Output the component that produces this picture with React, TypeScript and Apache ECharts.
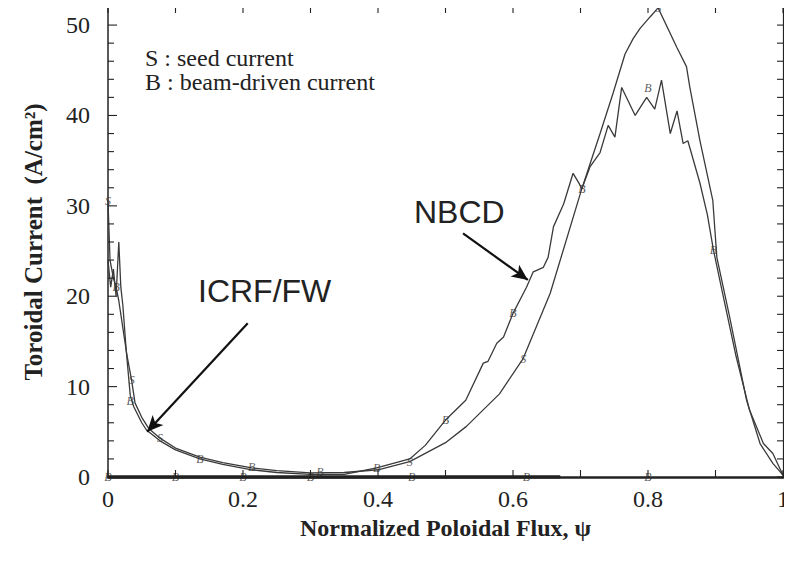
import React, { useEffect, useRef } from "react";
import * as echarts from "echarts";

// Seed current (S) curve
const seedX = [0, 0.003, 0.008, 0.012, 0.016, 0.022, 0.028, 0.035, 0.04, 0.05, 0.06, 0.077, 0.1, 0.136, 0.17, 0.213, 0.25, 0.3, 0.35, 0.4, 0.447, 0.5, 0.531, 0.58, 0.615, 0.655, 0.702, 0.729, 0.748, 0.766, 0.778, 0.788, 0.803, 0.815, 0.843, 0.857, 0.862, 0.877, 0.896, 0.902, 0.921, 0.946, 0.966, 0.985, 1.0];
const seedY = [30.5, 24, 22, 21, 19.5, 16.5, 13.5, 10.7, 8.2, 6.6, 5.4, 4.3, 3.2, 2.2, 1.6, 1.0, 0.7, 0.45, 0.5, 0.8, 1.7, 3.8, 5.6, 9.2, 13.1, 20.3, 31.9, 38.0, 42.4, 46.8, 48.5, 49.6, 50.9, 51.9, 47.5, 45.4, 43.1, 37.2, 30.6, 24.3, 17.7, 8.5, 3.7, 1.5, 0.2];

// Beam-driven current (B) curve
const beamX = [0, 0.004, 0.008, 0.012, 0.016, 0.019, 0.022, 0.027, 0.033, 0.038, 0.05, 0.057, 0.077, 0.1, 0.136, 0.17, 0.213, 0.25, 0.3, 0.35, 0.398, 0.447, 0.47, 0.5, 0.53, 0.556, 0.563, 0.576, 0.586, 0.6, 0.62, 0.63, 0.645, 0.652, 0.66, 0.675, 0.689, 0.697, 0.702, 0.714, 0.729, 0.741, 0.751, 0.761, 0.781, 0.798, 0.81, 0.82, 0.833, 0.843, 0.852, 0.859, 0.877, 0.888, 0.897, 0.91, 0.93, 0.95, 0.971, 0.985, 1.0];
const beamY = [24, 21, 23, 20, 26, 21, 19, 14, 9, 7.8, 6.0, 5.2, 4.0, 3.0, 2.0, 1.4, 0.8, 0.5, 0.3, 0.3, 1.0, 2.0, 3.5, 6.3, 8.5, 12.6, 12.8, 14.8, 15.5, 18.1, 21.0, 22.7, 23.2, 24.3, 27.7, 30.2, 33.6, 32.6, 31.9, 34.3, 35.9, 38.9, 37.6, 43.1, 40.0, 42.0, 40.7, 43.9, 38.0, 40.5, 36.9, 37.2, 32.5, 29.0, 25.1, 20.5, 13.5, 7.5, 3.7, 2.6, 0.2];

// near-zero (ICRF/FW region) baseline curve
const baseX = [0, 0.1, 0.2, 0.3, 0.45, 0.62, 0.67];
const baseY = [0, 0, 0, 0, 0, 0, 0];

// letter markers
const sMarkX = [0, 0.035, 0.077, 0.447, 0.615, 0.815, 1.0];
const sMarkY = [30.5, 10.7, 4.3, 1.7, 13.1, 51.9, 0.2];
const bMarkX = [0.012, 0.033, 0.136, 0.213, 0.314, 0.398, 0.5, 0.6, 0.702, 0.8, 0.897];
const bMarkY = [21, 8.4, 2.0, 1.1, 0.5, 1.0, 6.3, 18.1, 31.9, 43.0, 25.1];
const zMarkX = [0, 0.1, 0.2, 0.3, 0.45, 0.62, 0.8];
const zMarkY = [0, 0, 0, 0, 0, 0, 0];

// axis scale and tick positions
const xTicks = { min: 0, max: 1, interval: 0.2 };
const yTicks = { min: 0, max: 52, interval: 10 };
const xTickVals = [0, 0.1, 0.2, 0.3, 0.4, 0.5, 0.6, 0.7, 0.8, 0.9, 1.0];
const yTickVals = [0, 2, 4, 6, 8, 10, 12, 14, 16, 18, 20, 22, 24, 26, 28, 30, 32, 34, 36, 38, 40, 42, 44, 46, 48, 50, 52];

const zip = (xs: number[], ys: number[]) => xs.map((x, i) => [x, ys[i]]);

export default function App() {
  const ref = useRef<HTMLDivElement>(null);
  useEffect(() => {
    if (!ref.current) return;
    const chart = echarts.init(ref.current, undefined, { renderer: "svg" });
    const serif = "'Liberation Serif', 'DejaVu Serif', serif";
    const sans = "'Liberation Sans', Arial, sans-serif";
    const lineCol = "#3a3a3a";
    const ink = "#222";
    const markerLabel = (txt: string) => ({
      show: true,
      position: "inside" as const,
      formatter: txt,
      fontFamily: serif,
      fontStyle: "italic" as const,
      fontSize: 12,
      color: "#333",
      textBorderWidth: 0,
      textBorderColor: "transparent",
    });
    const tickStyle = { stroke: ink, lineWidth: 1.1 };
    chart.setOption({
      animation: false,
      backgroundColor: "#ffffff",
      grid: { left: 108, right: 9, top: 7, bottom: 87, show: false },
      xAxis: [
        {
          type: "value",
          min: xTicks.min,
          max: xTicks.max,
          interval: xTicks.interval,
          name: "Normalized Poloidal Flux, ψ",
          nameLocation: "middle",
          nameGap: 33,
          nameTextStyle: { fontFamily: serif, fontWeight: "bold", fontSize: 24, color: ink },
          axisLine: { show: true, onZero: false, lineStyle: { color: ink, width: 2.5 } },
          axisTick: { show: false },
          minorTick: { show: false },
          axisLabel: { fontFamily: serif, fontSize: 24, color: ink, margin: 10 },
          splitLine: { show: false },
        },
      ],
      yAxis: [
        {
          type: "value",
          min: yTicks.min,
          max: yTicks.max,
          interval: yTicks.interval,
          name: "Toroidal Current  (A/cm²)",
          nameLocation: "middle",
          nameGap: 62,
          nameTextStyle: { fontFamily: serif, fontWeight: "bold", fontSize: 25, color: ink },
          axisLine: { show: true, onZero: false, lineStyle: { color: ink, width: 1.5 } },
          axisTick: { show: false },
          minorTick: { show: false },
          axisLabel: { fontFamily: serif, fontSize: 24, color: ink, margin: 18, showMaxLabel: false },
          splitLine: { show: false },
        },
        {
          type: "value",
          position: "right",
          min: 0,
          max: 52,
          interval: 2,
          axisLine: { show: true, onZero: false, lineStyle: { color: ink, width: 1.2 } },
          axisTick: { show: false },
          axisLabel: { show: false },
          splitLine: { show: false },
        },
      ],
      series: [
        {
          name: "S",
          type: "line",
          data: zip(seedX, seedY),
          showSymbol: false,
          lineStyle: { color: lineCol, width: 1.3 },
          itemStyle: { color: lineCol },
          markLine: {
            silent: true,
            symbol: ["none", "arrow"],
            symbolSize: [11, 16],
            lineStyle: { color: "#111", width: 2.2, type: "solid" },
            label: { show: false },
            data: [
              [{ coord: [0.526, 26.96] }, { coord: [0.622, 21.8] }],
              [{ coord: [0.207, 17.0] }, { coord: [0.058, 5.0] }],
            ],
          },
        },
        {
          name: "B",
          type: "line",
          data: zip(beamX, beamY),
          showSymbol: false,
          lineStyle: { color: lineCol, width: 1.3 },
          itemStyle: { color: lineCol },
        },
        {
          name: "base",
          type: "line",
          data: zip(baseX, baseY),
          showSymbol: false,
          lineStyle: { color: ink, width: 3.5 },
          itemStyle: { color: ink },
        },
        {
          name: "S markers",
          type: "scatter",
          data: zip(sMarkX, sMarkY),
          symbolSize: 1,
          itemStyle: { color: "rgba(0,0,0,0)" },
          label: markerLabel("S"),
        },
        {
          name: "B markers",
          type: "scatter",
          data: zip(bMarkX, bMarkY),
          symbolSize: 1,
          itemStyle: { color: "rgba(0,0,0,0)" },
          label: markerLabel("B"),
        },
        {
          name: "zero markers",
          type: "scatter",
          data: zip(zMarkX, zMarkY),
          symbolSize: 1,
          itemStyle: { color: "rgba(0,0,0,0)" },
          label: markerLabel("B"),
        },
        {
          name: "y ticks",
          type: "custom",
          coordinateSystem: "cartesian2d",
          clip: false,
          encode: { x: 0, y: 1 },
          data: yTickVals.map((v) => [xTicks.min, v]),
          renderItem: (_params: any, api: any) => {
            const v = api.value(1);
            const l = api.coord([xTicks.min, v]);
            const r = api.coord([xTicks.max, v]);
            const len = v % 10 === 0 ? 9 : 6;
            return {
              type: "group",
              children: [
                { type: "line", shape: { x1: l[0], y1: l[1], x2: l[0] + len, y2: l[1] }, style: tickStyle },
                { type: "line", shape: { x1: r[0], y1: r[1], x2: r[0] - 6, y2: r[1] }, style: tickStyle },
              ],
            };
          },
          z: 6,
        },
        {
          name: "x ticks",
          type: "custom",
          coordinateSystem: "cartesian2d",
          clip: false,
          encode: { x: 0, y: 1 },
          data: xTickVals.map((v) => [v, yTicks.min]),
          renderItem: (_params: any, api: any) => {
            const v = api.value(0);
            const b = api.coord([v, yTicks.min]);
            const t = api.coord([v, yTicks.max]);
            const children: any[] = [
              { type: "line", shape: { x1: b[0], y1: b[1], x2: b[0], y2: b[1] - 7 }, style: tickStyle },
              { type: "line", shape: { x1: t[0], y1: t[1], x2: t[0], y2: t[1] + 6 }, style: tickStyle },
            ];
            if (v === xTicks.min) {
              const tr = api.coord([xTicks.max, yTicks.max]);
              children.push({ type: "line", shape: { x1: t[0], y1: t[1], x2: tr[0], y2: tr[1] }, style: { stroke: ink, lineWidth: 1.3 } });
            }
            return { type: "group", children };
          },
          z: 6,
        },
      ],
      graphic: [
        { type: "text", left: 145, top: 46, style: { text: "S : seed current", font: `24px ${serif}`, fill: ink } },
        { type: "text", left: 145, top: 70, style: { text: "B : beam-driven current", font: `24px ${serif}`, fill: ink } },
        { type: "text", left: 414, top: 196, style: { text: "NBCD", font: `32px ${sans}`, fill: ink } },
        { type: "text", left: 198, top: 275, style: { text: "ICRF/FW", font: `32px ${sans}`, fill: ink } },
      ],
    });
    return () => chart.dispose();
  }, []);
  return <div ref={ref} style={{ width: 792, height: 564, margin: -8 }} />;
}
